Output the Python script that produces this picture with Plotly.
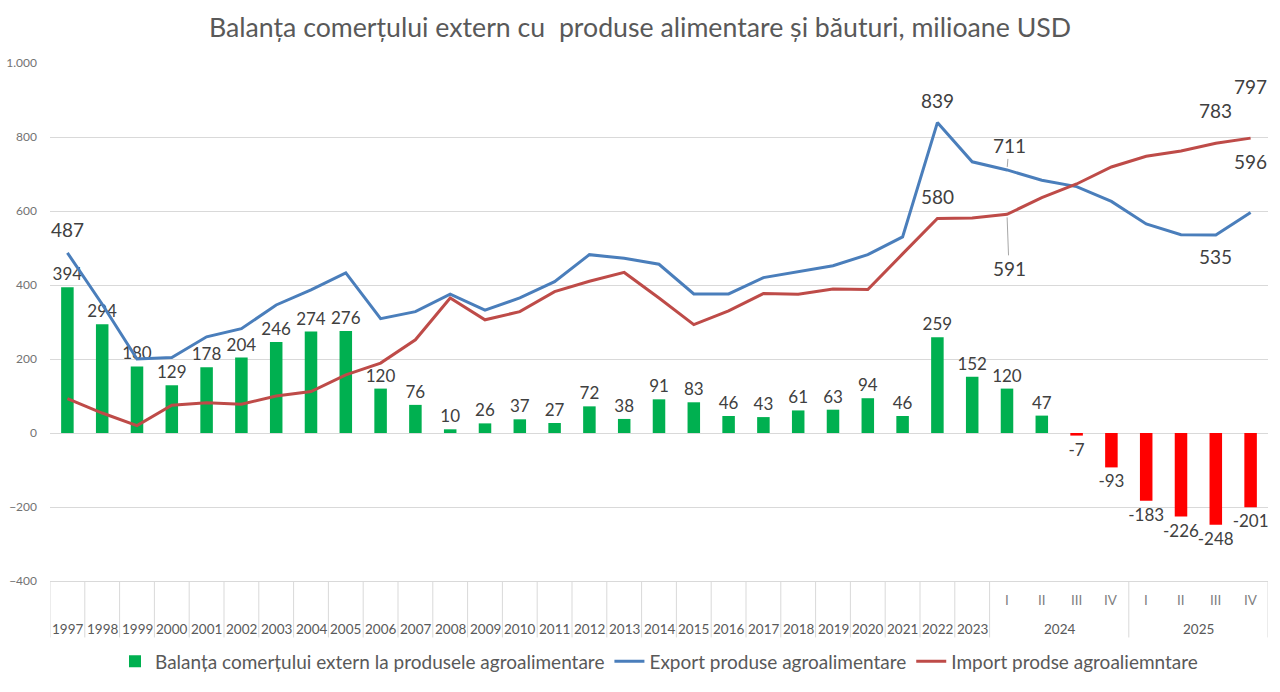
import plotly.graph_objects as go

# --- data (milioane USD) ---
years = [str(y) for y in range(1997, 2024)]
quarter_years = ["2024", "2025"]
quarters = ["I", "II", "III", "IV"]

balance = [394, 294, 180, 129, 178, 204, 246, 274, 276, 120, 76, 10, 26, 37, 27,
           72, 38, 91, 83, 46, 43, 61, 63, 94, 46, 259, 152,
           120, 47, -7, -93, -183, -226, -248, -201]
export = [487, 348, 200, 204, 260, 282, 346, 387, 433, 309, 328, 375, 332, 365, 409,
          482, 472, 456, 376, 376, 420, 436, 452, 482, 530, 839, 733,
          711, 683, 666, 626, 565, 536, 535, 596]
imports = [93, 54, 20, 75, 82, 78, 100, 112, 157, 189, 252, 365, 306, 328, 382,
           410, 434, 365, 293, 330, 377, 375, 389, 388, 484, 580, 581,
           591, 636, 673, 719, 748, 762, 783, 797]

cats = years + [f"{y} {q}" for y in quarter_years for q in quarters]

GREEN = "#00B050"
RED_BAR = "#FF0000"
BLUE = "#4A7EBB"
RED_LINE = "#BE4B48"
TXT = "#404040"
GRID = "#D9D9D9"
FONT = "Lato"

bar_colors = [GREEN if v >= 0 else RED_BAR for v in balance]

fig = go.Figure()

fig.add_trace(go.Bar(
    x=cats, y=balance,
    name="Balanța comerțului extern la produsele agroalimentare",
    marker=dict(color=bar_colors, line=dict(width=0)),
    width=0.36,
    text=[str(v) for v in balance],
    textposition="outside",
    constraintext="none",
    cliponaxis=False,
    textfont=dict(size=17, color=TXT, family=FONT),
))
fig.add_trace(go.Scatter(
    x=cats, y=export, mode="lines",
    name="Export produse agroalimentare",
    line=dict(color=BLUE, width=3),
))
fig.add_trace(go.Scatter(
    x=cats, y=imports, mode="lines",
    name="Import prodse agroaliemntare",
    line=dict(color=RED_LINE, width=3),
))

# line labels: (series, index, pixel offset, leader line)
labels = [
    (export, 0, -23, False),
    (export, 25, -22, False),
    (export, 27, -24, True),
    (export, 33, 21, False),
    (export, 34, -51, False),
    (imports, 25, -22, False),
    (imports, 27, 54, True),
    (imports, 33, -33, False),
    (imports, 34, -52, False),
]
for series, i, dy, leader in labels:
    if leader:
        fig.add_annotation(
            x=i, y=series[i], text=str(series[i]), xref="x", yref="y",
            showarrow=True, arrowhead=0, arrowwidth=1, arrowcolor="#A6A6A6",
            ax=2, ay=dy, standoff=3,
            font=dict(size=19, color=TXT, family=FONT),
        )
    else:
        fig.add_annotation(
            x=i, y=series[i], text=str(series[i]), xref="x", yref="y",
            showarrow=False, yshift=-dy,
            font=dict(size=19, color=TXT, family=FONT),
        )

# two-row category labels (years / quarters grouped by year)
for i, yr in enumerate(years):
    fig.add_annotation(
        x=i, y=-0.092, xref="x", yref="paper", text=yr, showarrow=False,
        yanchor="middle", font=dict(size=13.5, color="#595959", family=FONT),
    )
n_years = len(years)
for g, yr in enumerate(quarter_years):
    start = n_years + g * len(quarters)
    for k, q in enumerate(quarters):
        fig.add_annotation(
            x=start + k, y=-0.036, xref="x", yref="paper", text=q,
            showarrow=False, yanchor="middle",
            font=dict(size=13.5, color="#7F7F7F", family=FONT),
        )
    fig.add_annotation(
        x=start + (len(quarters) - 1) / 2, y=-0.092, xref="x", yref="paper",
        text=yr, showarrow=False, yanchor="middle",
        font=dict(size=13.5, color="#595959", family=FONT),
    )

# category dividers
dividers = [k - 0.5 for k in range(n_years + 1)]
dividers += [n_years + (g + 1) * len(quarters) - 0.5 for g in range(len(quarter_years))]
for d in dividers:
    fig.add_shape(
        type="line", xref="x", yref="paper", x0=d, x1=d, y0=0, y1=-0.109,
        line=dict(color=GRID, width=1),
    )

fig.update_layout(
    width=1280, height=692,
    margin=dict(l=50, r=12, t=63, b=106),
    paper_bgcolor="white", plot_bgcolor="white",
    separators=",.",
    title=dict(
        text="Balanța comerțului extern cu  produse alimentare și băuturi, milioane USD",
        x=0.5, xanchor="center", y=0.96, yanchor="middle",
        font=dict(size=26.7, color="#595959", family=FONT),
    ),
    showlegend=True,
    legend=dict(
        orientation="h", x=0.5, xanchor="center", y=-0.155, yanchor="middle",
        font=dict(size=19, color="#595959", family=FONT),
        traceorder="normal",
    ),
    bargap=0.6,
)

fig.update_yaxes(
    range=[-400, 1000], dtick=200, tickformat=",",
    showgrid=True, gridcolor=GRID, gridwidth=1,
    zeroline=False, showline=False, automargin=False,
    tickfont=dict(size=12, color="#737373", family=FONT),
    ticks="", ticklabelstandoff=12,
)
fig.update_xaxes(
    type="category", automargin=False, range=[-0.5, len(cats) - 0.5],
    showline=True, linecolor=GRID, showticklabels=False,
    ticks="", showgrid=False,
)

fig.write_html(
    "out.html",
    config={"displayModeBar": False},
    post_script="document.body.style.margin='0';",
)
